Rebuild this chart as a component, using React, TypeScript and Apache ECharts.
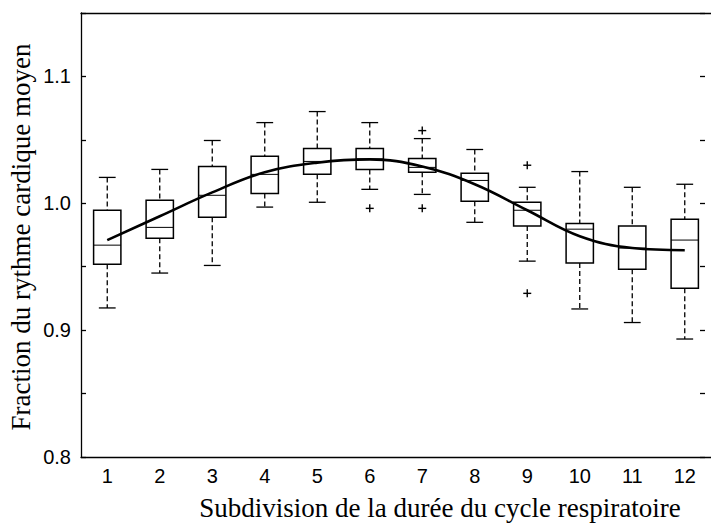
import React, { useEffect, useRef } from "react";
import * as echarts from "echarts";

const categories = ["1", "2", "3", "4", "5", "6", "7", "8", "9", "10", "11", "12"];
const lowWhisker = [0.9175, 0.945, 0.951, 0.997, 1.0008, 1.011, 1.007, 0.985, 0.9544, 0.9167, 0.906, 0.893];
const q1 = [0.952, 0.9725, 0.989, 1.0078, 1.0228, 1.0267, 1.0244, 1.0016, 0.982, 0.953, 0.948, 0.933];
const median = [0.967, 0.981, 1.0063, 1.0228, 1.033, 1.035, 1.0283, 1.018, 0.9945, 0.9796, 0.9647, 0.971];
const q3 = [0.9945, 1.0024, 1.029, 1.037, 1.0432, 1.0432, 1.0353, 1.0236, 1.0008, 0.984, 0.982, 0.9874];
const highWhisker = [1.0204, 1.0267, 1.0495, 1.0636, 1.0723, 1.0636, 1.051, 1.0424, 1.0126, 1.025, 1.0126, 1.015];
// outliers: [category index, value]
const outliers: [number, number][] = [
  [5, 0.996],
  [6, 1.0573],
  [6, 0.996],
  [8, 1.03],
  [8, 0.929],
];
const meanCurve = [0.971, 0.9898, 1.0086, 1.0245, 1.032, 1.0346, 1.029, 1.015, 0.9945, 0.974, 0.9647, 0.963];

const yMin = 0.8;
const yMax = 1.15;
const yInterval = 0.05;

export default function App() {
  const ref = useRef<HTMLDivElement>(null);
  useEffect(() => {
    if (!ref.current) return;
    const chart = echarts.init(ref.current, null, { renderer: "svg" });
    const boxData = categories.map((_, i) => [i, lowWhisker[i], q1[i], median[i], q3[i], highWhisker[i]]);
    const sans = "Liberation Sans, Arial, sans-serif";
    const serif = "Liberation Serif, Times New Roman, serif";
    const axisLineStyle = { color: "#000", width: 1.3 };
    const yLabelFormatter = (v: number) => {
      const r = Math.round(v * 100);
      return r % 10 === 0 ? (r / 100).toFixed(1) : "";
    };
    chart.setOption({
      animation: false,
      backgroundColor: "#fff",
      grid: { left: 81, top: 13, right: -6, bottom: 66, containLabel: false },
      xAxis: [
        {
          type: "category",
          data: categories,
          position: "bottom",
          boundaryGap: true,
          axisLine: { lineStyle: axisLineStyle },
          axisTick: { inside: true, alignWithLabel: true, length: 6, lineStyle: axisLineStyle },
          axisLabel: { fontSize: 20, color: "#000", fontFamily: sans, margin: 9 },
          splitLine: { show: false },
        },
        {
          type: "category",
          data: categories,
          position: "top",
          boundaryGap: true,
          axisLine: { lineStyle: axisLineStyle },
          axisTick: { inside: true, alignWithLabel: true, length: 6, lineStyle: axisLineStyle },
          axisLabel: { show: false },
          splitLine: { show: false },
        },
      ],
      yAxis: [
        {
          type: "value",
          min: yMin,
          max: yMax,
          interval: yInterval,
          position: "left",
          axisLine: { show: true, lineStyle: axisLineStyle },
          axisTick: { show: true, inside: true, length: 5, lineStyle: axisLineStyle },
          axisLabel: { fontSize: 20, color: "#000", fontFamily: sans, margin: 10, formatter: yLabelFormatter },
          splitLine: { show: false },
        },
        {
          type: "value",
          min: yMin,
          max: yMax,
          interval: yInterval,
          position: "right",
          offset: -6,
          axisLine: { show: false },
          axisTick: { show: true, inside: true, length: 5, lineStyle: axisLineStyle },
          axisLabel: { show: false },
          splitLine: { show: false },
        },
      ],
      graphic: [
        {
          type: "text",
          x: 440,
          y: 508,
          style: {
            text: "Subdivision de la durée du cycle respiratoire",
            fontSize: 27,
            fontFamily: serif,
            fill: "#000",
            align: "center",
            verticalAlign: "middle",
          },
        },
        {
          type: "text",
          x: 21,
          y: 237,
          rotation: Math.PI / 2,
          style: {
            text: "Fraction du rythme cardique moyen",
            fontSize: 27,
            fontFamily: serif,
            fill: "#000",
            align: "center",
            verticalAlign: "middle",
          },
        },
      ],
      series: [
        {
          type: "custom",
          xAxisIndex: 0,
          yAxisIndex: 0,
          data: boxData,
          encode: { x: 0, y: [1, 2, 3, 4, 5] },
          renderItem: (params: any, api: any) => {
            const idx = api.value(0);
            const pLow = api.coord([idx, api.value(1)]);
            const pQ1 = api.coord([idx, api.value(2)]);
            const pMed = api.coord([idx, api.value(3)]);
            const pQ3 = api.coord([idx, api.value(4)]);
            const pHigh = api.coord([idx, api.value(5)]);
            const band = api.size([1, 0])[0];
            const bw = band * 0.52;
            const cw = band * 0.32;
            const cx = pMed[0];
            const dash = { stroke: "#000", lineWidth: 1.3, lineDash: [5, 3] };
            const solid = { stroke: "#000", lineWidth: 1.3 };
            return {
              type: "group",
              children: [
                { type: "line", shape: { x1: cx, y1: pHigh[1], x2: cx, y2: pQ3[1] }, style: dash },
                { type: "line", shape: { x1: cx, y1: pQ1[1], x2: cx, y2: pLow[1] }, style: dash },
                { type: "line", shape: { x1: cx - cw / 2, y1: pHigh[1], x2: cx + cw / 2, y2: pHigh[1] }, style: solid },
                { type: "line", shape: { x1: cx - cw / 2, y1: pLow[1], x2: cx + cw / 2, y2: pLow[1] }, style: solid },
                {
                  type: "rect",
                  shape: { x: cx - bw / 2, y: pQ3[1], width: bw, height: pQ1[1] - pQ3[1] },
                  style: { fill: "none", stroke: "#000", lineWidth: 1.5 },
                },
                { type: "line", shape: { x1: cx - bw / 2, y1: pMed[1], x2: cx + bw / 2, y2: pMed[1] }, style: { stroke: "#000", lineWidth: 1 } },
              ],
            };
          },
          z: 2,
        },
        {
          type: "custom",
          xAxisIndex: 0,
          yAxisIndex: 0,
          data: outliers,
          encode: { x: 0, y: 1 },
          renderItem: (params: any, api: any) => {
            const p = api.coord([api.value(0), api.value(1)]);
            const s = 4;
            const st = { stroke: "#000", lineWidth: 1.4 };
            return {
              type: "group",
              children: [
                { type: "line", shape: { x1: p[0] - s, y1: p[1], x2: p[0] + s, y2: p[1] }, style: st },
                { type: "line", shape: { x1: p[0], y1: p[1] - s, x2: p[0], y2: p[1] + s }, style: st },
              ],
            };
          },
          z: 2,
        },
        {
          type: "line",
          xAxisIndex: 0,
          yAxisIndex: 0,
          data: meanCurve,
          smooth: 0.4,
          symbol: "none",
          lineStyle: { color: "#000", width: 2.6 },
          z: 3,
        },
      ],
    });
    return () => chart.dispose();
  }, []);
  return (
    <div
      ref={ref}
      style={{ position: "absolute", left: 0, top: 0, width: 711, height: 523, background: "#fff" }}
    />
  );
}
